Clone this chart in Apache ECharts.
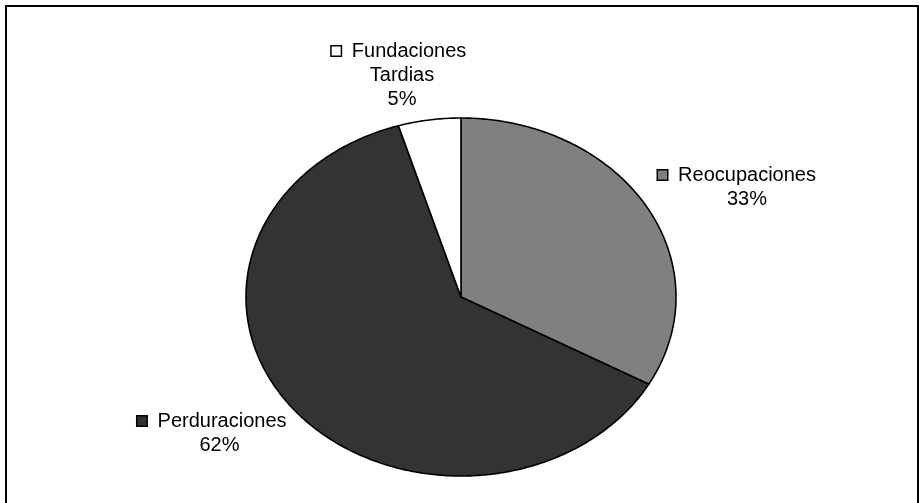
<!DOCTYPE html>
<html>
<head>
<meta charset="utf-8">
<script src="https://cdn.jsdelivr.net/npm/echarts@6/dist/echarts.min.js"></script>
<style>
html,body{margin:0;padding:0;background:#fff;}
#chart{width:919px;height:503px;}
</style>
</head>
<body>
<div id="chart"></div>
<script>
// ---- data ----
const categories = ['Reocupaciones', 'Perduraciones', 'Fundaciones\nTardias'];
const values = [33.1, 62.2, 4.7];
const sliceColors = ['#808080', '#333333', '#ffffff'];

// ---- layout ----
const center = [461, 297];
const radii = [215, 179];
const labelPos = [[737, 187], [212, 433], [399, 75]];
const restLineShift = [20, 15, 6];

const total = values.reduce((a, b) => a + b, 0);
const cum = [0];
values.forEach((v, i) => cum.push(cum[i] + v));

function renderItem(params, api) {
  const i = params.dataIndex;
  const v = api.value(0);
  const a0 = cum[i] / total * Math.PI * 2;
  const a1 = a0 + v / total * Math.PI * 2;
  const pts = [[center[0], center[1]]];
  const n = Math.max(8, Math.ceil((a1 - a0) / 0.01));
  for (let k = 0; k <= n; k++) {
    const a = a0 + (a1 - a0) * k / n;
    const t = Math.PI / 2 - a;
    pts.push([center[0] + radii[0] * Math.cos(t), center[1] - radii[1] * Math.sin(t)]);
  }
  const lines = categories[i].split('\n');
  const rest = lines.slice(1).concat([Math.round(v / total * 100) + '%']);
  const txt = '{sq|}  ' + lines[0] + '\n' + rest.map(s => '{p|' + s + '}').join('\n');
  return {
    type: 'group',
    children: [
      {
        type: 'polygon',
        shape: { points: pts },
        style: { fill: sliceColors[i], stroke: '#000', lineWidth: 1.6, lineJoin: 'round' }
      },
      {
        type: 'text',
        x: labelPos[i][0],
        y: labelPos[i][1],
        style: {
          text: txt,
          fill: '#000',
          fontSize: 20,
          fontFamily: '"Liberation Sans", Arial, sans-serif',
          lineHeight: 24,
          align: 'center',
          verticalAlign: 'middle',
          rich: {
            sq: {
              width: 9, height: 9,
              backgroundColor: sliceColors[i],
              borderColor: '#000',
              borderWidth: 1.5
            },
            p: {
              fontSize: 20,
              fontFamily: '"Liberation Sans", Arial, sans-serif',
              lineHeight: 24,
              padding: [0, 0, 0, restLineShift[i]]
            }
          }
        }
      }
    ]
  };
}

const chart = echarts.init(document.getElementById('chart'), null, { renderer: 'canvas' });
chart.setOption({
  backgroundColor: '#fff',
  animation: false,
  graphic: [{
    type: 'rect',
    shape: { x: 6, y: 6, width: 912, height: 600 },
    style: { fill: 'none', stroke: '#000', lineWidth: 2 },
    silent: true
  }],
  series: [{
    type: 'custom',
    coordinateSystem: 'none',
    renderItem: renderItem,
    data: values.map((v, i) => ({ value: [v], name: categories[i] }))
  }]
});
</script>
</body>
</html>
